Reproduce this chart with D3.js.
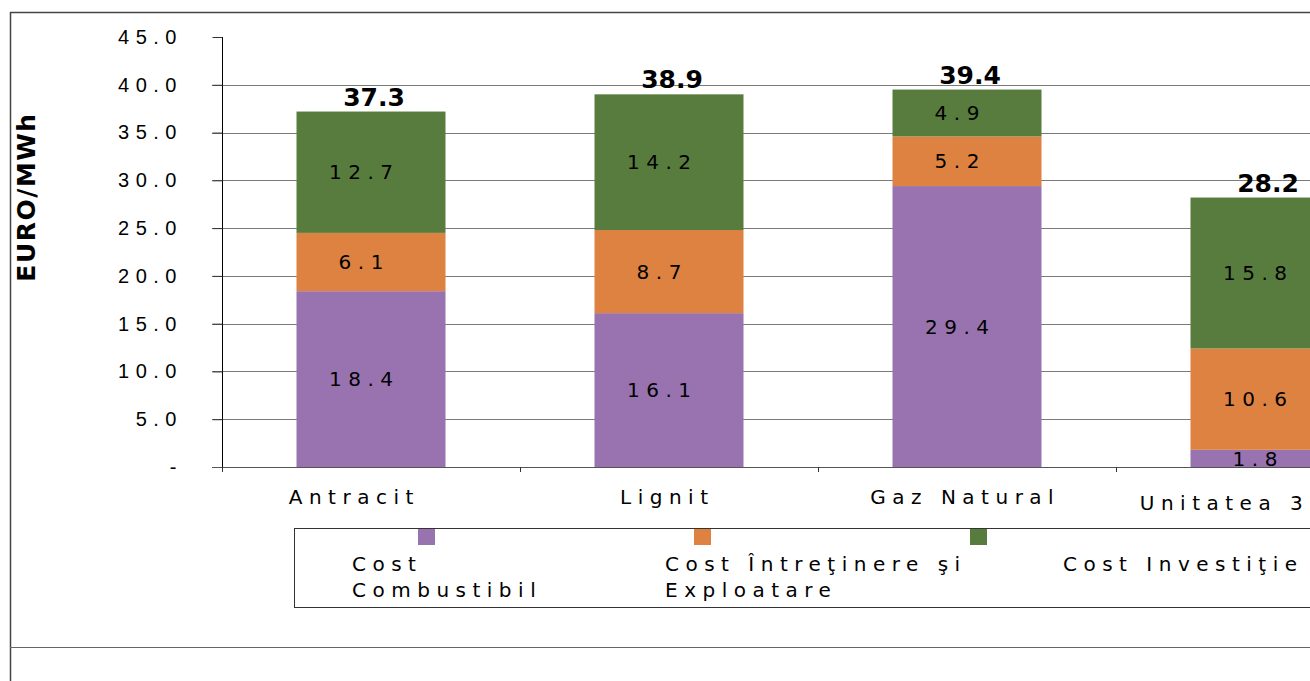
<!DOCTYPE html>
<html>
<head>
<meta charset="utf-8">
<script src="https://cdn.jsdelivr.net/npm/d3@7"></script>
<style>
  body { margin: 0; background: #fff; }
  svg { display: block; font-family: "DejaVu Sans", Verdana, sans-serif; }
  .sp { letter-spacing: 6.5px; font-size: 20px; }
</style>
</head>
<body>
<div id="chart"></div>
<script>
// data
var categories = ["Antracit", "Lignit", "Gaz Natural", "Unitatea 3"];
var costCombustibil = [18.4, 16.1, 29.4, 1.8];
var costExploatare = [6.1, 8.7, 5.2, 10.6];
var costInvestitie = [12.7, 14.2, 4.9, 15.8];
var totals = [37.3, 38.9, 39.4, 28.2];
var yTicks = [0, 5, 10, 15, 20, 25, 30, 35, 40, 45];
var seriesNames = [["Cost", "Combustibil"], ["Cost Întreţinere şi", "Exploatare"], ["Cost Investiţie"]];
var colors = ["#9873AF", "#DD8241", "#587C3E"];

var W = 1310, H = 681;
var LS = 6.5; // letter spacing

var svg = d3.select("#chart").append("svg")
    .attr("width", W)
    .attr("height", H);

// outer frame
svg.append("line").attr("x1", 10).attr("x2", W).attr("y1", 12.5).attr("y2", 12.5)
    .attr("stroke", "#444").attr("stroke-width", 1.5);
svg.append("line").attr("x1", 10.5).attr("x2", 10.5).attr("y1", 12).attr("y2", H)
    .attr("stroke", "#444").attr("stroke-width", 1.5);
svg.append("line").attr("x1", 10).attr("x2", W).attr("y1", 647.5).attr("y2", 647.5)
    .attr("stroke", "#666").attr("stroke-width", 1.2);

var x = d3.scaleBand()
    .domain(categories)
    .range([222, 222 + 4 * 298])
    .paddingInner(0.5)
    .paddingOuter(0.25);

var y = d3.scaleLinear().domain([0, 45]).range([467, 37]);

// gridlines
svg.append("g").selectAll("line")
    .data(yTicks.filter(function(d) { return d > 0 && d < 45; }))
    .enter().append("line")
    .attr("x1", 212).attr("x2", W)
    .attr("y1", function(d) { return Math.round(y(d)) + 0.5; })
    .attr("y2", function(d) { return Math.round(y(d)) + 0.5; })
    .attr("stroke", "#7a7a7a").attr("stroke-width", 1);

// y axis
var yAxis = d3.axisLeft(y)
    .tickValues(yTicks)
    .tickSize(10)
    .tickPadding(36)
    .tickFormat(function(d) { return d === 0 ? "-" : d3.format(".1f")(d); });

var ya = svg.append("g")
    .attr("transform", "translate(222.5,0)")
    .call(yAxis);
ya.select(".domain").attr("stroke", "#000").attr("d", "M0," + y(45) + "V" + (y(0) + 3));
ya.selectAll(".tick line").attr("stroke", "#333");
ya.selectAll(".tick text")
    .attr("class", "sp")
    .attr("fill", "#000")
    .attr("font-family", null)
    .attr("font-size", null)
    .attr("dx", LS);

// x axis baseline
svg.append("line").attr("x1", 212).attr("x2", W)
    .attr("y1", y(0) + 0.5).attr("y2", y(0) + 0.5)
    .attr("stroke", "#555");
svg.append("g").selectAll("line")
    .data(d3.range(categories.length))
    .enter().append("line")
    .attr("x1", function(i) { return 222.5 + i * x.step(); })
    .attr("x2", function(i) { return 222.5 + i * x.step(); })
    .attr("y1", y(0)).attr("y2", y(0) + 5)
    .attr("stroke", "#333");

// stacked bars
var series = [costCombustibil, costExploatare, costInvestitie];
var stacked = categories.map(function(c, i) {
    var y0 = 0;
    return series.map(function(s, k) {
        var seg = {cat: c, k: k, v: s[i], y0: y0, y1: y0 + s[i]};
        y0 += s[i];
        return seg;
    });
});

var bars = svg.append("g").selectAll("g")
    .data(stacked)
    .enter().append("g");

bars.selectAll("rect")
    .data(function(d) { return d; })
    .enter().append("rect")
    .attr("x", function(d) { return x(d.cat); })
    .attr("width", x.bandwidth())
    .attr("y", function(d) { return y(d.y1); })
    .attr("height", function(d) { return y(d.y0) - y(d.y1); })
    .attr("fill", function(d) { return colors[d.k]; });

bars.selectAll("text")
    .data(function(d) { return d; })
    .enter().append("text")
    .attr("class", "sp")
    .attr("x", function(d) { return x(d.cat) + x.bandwidth() / 2 - 10; })
    .attr("dx", LS / 2)
    .attr("y", function(d) { return (y(d.y0) + y(d.y1)) / 2; })
    .attr("dy", "0.36em")
    .attr("text-anchor", "middle")
    .text(function(d) { return d3.format(".1f")(d.v); });

// totals
svg.append("g").selectAll("text")
    .data(categories)
    .enter().append("text")
    .attr("x", function(c) { return x(c) + x.bandwidth() / 2 + 3; })
    .attr("y", function(c, i) { return y(d3.sum(series, function(s) { return s[i]; })) - 6; })
    .attr("text-anchor", "middle")
    .attr("font-size", 25)
    .attr("font-weight", "bold")
    .text(function(c, i) { return d3.format(".1f")(totals[i]); });

// category labels
svg.append("g").selectAll("text")
    .data(categories)
    .enter().append("text")
    .attr("class", "sp")
    .attr("text-anchor", "middle")
    .text(function(d) { return d; })
    .each(function(c, i) {
        var t = d3.select(this);
        var half = this.getComputedTextLength() / 2;
        var cx = x(c) + x.bandwidth() / 2 - (i === 0 ? 20 : 5);
        var shifted = cx + half > W - 4;
        if (shifted) cx = W - 4 - half;
        t.attr("x", cx + LS / 2).attr("y", shifted ? 510 : 504);
    });

// y title
svg.append("text")
    .attr("transform", "translate(35,197) rotate(-90)")
    .attr("text-anchor", "middle")
    .attr("font-size", 25)
    .attr("font-weight", "bold")
    .style("letter-spacing", "1.5px")
    .text("EURO/MWh");

// legend
var legend = svg.append("g");
legend.append("rect")
    .attr("x", 294.5).attr("y", 528.5)
    .attr("width", W).attr("height", 79)
    .attr("fill", "none").attr("stroke", "#333");

var swatchX = [418, 694, 970];
var textX = [352, 665, 1063];
seriesNames.forEach(function(lines, k) {
    legend.append("rect")
        .attr("x", swatchX[k]).attr("y", 529)
        .attr("width", 17).attr("height", 16)
        .attr("fill", colors[k]);
    lines.forEach(function(l, j) {
        legend.append("text")
            .attr("class", "sp")
            .attr("x", textX[k])
            .attr("y", 571 + j * 26)
            .text(l);
    });
});
</script>
</body>
</html>
